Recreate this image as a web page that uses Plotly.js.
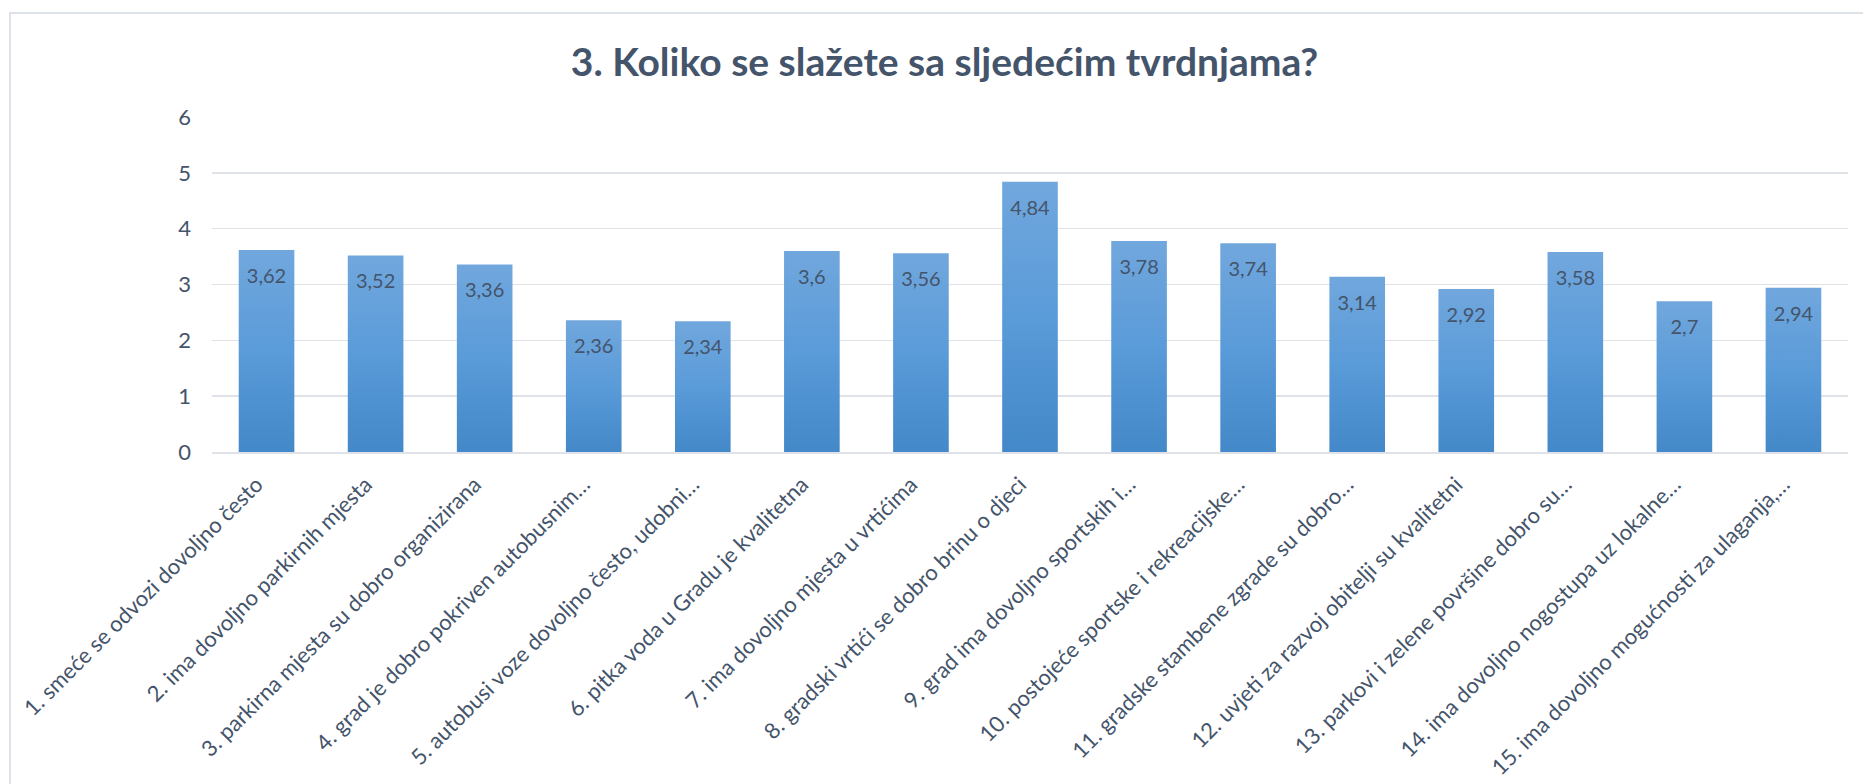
<!DOCTYPE html>
<html>
<head>
<meta charset="utf-8">
<script src="https://cdn.plot.ly/plotly-3.0.1.min.js"></script>
<style>
  html, body { margin: 0; padding: 0; background: #ffffff; }
  #wrap { position: relative; width: 1863px; height: 784px; overflow: hidden; }
  #chart { position: absolute; left: 0; top: 0; width: 1863px; height: 784px; }
  #frame { position: absolute; left: 9px; top: 12px; width: 1900px; height: 800px;
           border-top: 2px solid #dde1e8; border-left: 2px solid #dde1e8; pointer-events: none; }
</style>
</head>
<body>
<div id="wrap">
  <div id="chart"></div>
  <div id="frame"></div>
</div>
<script>
const chartTitle = "3. Koliko se slažete sa sljedećim tvrdnjama?";

const categories = [
  "1. smeće se odvozi dovoljno često",
  "2. ima dovoljno parkirnih mjesta",
  "3. parkirna mjesta su dobro organizirana",
  "4. grad je dobro pokriven autobusnim…",
  "5. autobusi voze dovoljno često, udobni…",
  "6. pitka voda u Gradu je kvalitetna",
  "7. ima dovoljno mjesta u vrtićima",
  "8. gradski vrtići se dobro brinu o djeci",
  "9. grad ima dovoljno sportskih i…",
  "10. postojeće sportske i rekreacijske…",
  "11. gradske stambene zgrade su dobro…",
  "12. uvjeti za razvoj obitelji su kvalitetni",
  "13. parkovi i zelene površine dobro su…",
  "14. ima dovoljno nogostupa uz lokalne…",
  "15. ima dovoljno mogućnosti za ulaganja,…"
];

const values = [3.62, 3.52, 3.36, 2.36, 2.34, 3.6, 3.56, 4.84, 3.78, 3.74, 3.14, 2.92, 3.58, 2.7, 2.94];

const yTicks = [0, 1, 2, 3, 4, 5, 6];

const labels = values.map(v => String(v).replace('.', ','));
const labelOffset = 0.5;

const textColor = '#44546A';
const gridColor = '#dfe2e7';

const traces = [
  {
    type: 'bar',
    x: categories,
    y: values,
    marker: { color: '#5b9bd9', line: { width: 0 } },
    hoverinfo: 'skip',
    showlegend: false
  },
  {
    type: 'scatter',
    mode: 'text',
    x: categories,
    y: values.map(v => v - labelOffset),
    text: labels,
    textposition: 'middle center',
    textfont: { family: 'Lato, sans-serif', size: 20, color: textColor },
    hoverinfo: 'skip',
    showlegend: false
  }
];

const layout = {
  width: 1863,
  height: 784,
  paper_bgcolor: 'rgba(0,0,0,0)',
  plot_bgcolor: 'rgba(0,0,0,0)',
  margin: { l: 212, r: 15, t: 117, b: 332 },
  font: { family: 'Lato, sans-serif', color: textColor, size: 22 },
  title: {
    text: '<b>' + chartTitle + '</b>',
    font: { family: 'Lato, sans-serif', size: 39, color: textColor },
    xref: 'container', x: 0.507, xanchor: 'center',
    yref: 'container', y: 1 - 62 / 784, yanchor: 'middle'
  },
  bargap: 0.49,
  xaxis: {
    type: 'category',
    range: [-0.5, categories.length - 0.5],
    autorange: false,
    tickangle: -45,
    showgrid: false,
    showline: true,
    linecolor: gridColor,
    linewidth: 2,
    ticks: '',
    ticklabelstandoff: 12,
    tickfont: { family: 'Lato, sans-serif', size: 22, color: textColor },
    fixedrange: true
  },
  yaxis: {
    range: [0, 6],
    autorange: false,
    tickvals: yTicks,
    ticktext: yTicks.map(String),
    showgrid: true,
    gridcolor: gridColor,
    gridwidth: 1.5,
    zeroline: false,
    showline: false,
    ticks: '',
    ticklabelstandoff: 20,
    tickfont: { family: 'Lato, sans-serif', size: 22, color: textColor },
    fixedrange: true
  }
};

Plotly.newPlot('chart', traces, layout, { staticPlot: true, displayModeBar: false }).then(gd => {
  const svg = gd.querySelector('.main-svg');
  const NS = 'http://www.w3.org/2000/svg';
  let defs = svg.querySelector('defs');
  if (!defs) { defs = document.createElementNS(NS, 'defs'); svg.insertBefore(defs, svg.firstChild); }
  const grad = document.createElementNS(NS, 'linearGradient');
  grad.setAttribute('id', 'barGrad');
  grad.setAttribute('x1', '0'); grad.setAttribute('y1', '0');
  grad.setAttribute('x2', '0'); grad.setAttribute('y2', '1');
  [['0', '#71a7dd'], ['0.5', '#5a9bd9'], ['1', '#4388c8']].forEach(([o, c]) => {
    const s = document.createElementNS(NS, 'stop');
    s.setAttribute('offset', o);
    s.setAttribute('stop-color', c);
    grad.appendChild(s);
  });
  defs.appendChild(grad);
  gd.querySelectorAll('.bars .point path').forEach(p => { p.style.fill = 'url(#barGrad)'; });
  const xLayer = gd.querySelector('.xaxislayer-above');
  if (xLayer) xLayer.setAttribute('transform', 'translate(-10,-3)');
});
</script>
</body>
</html>
